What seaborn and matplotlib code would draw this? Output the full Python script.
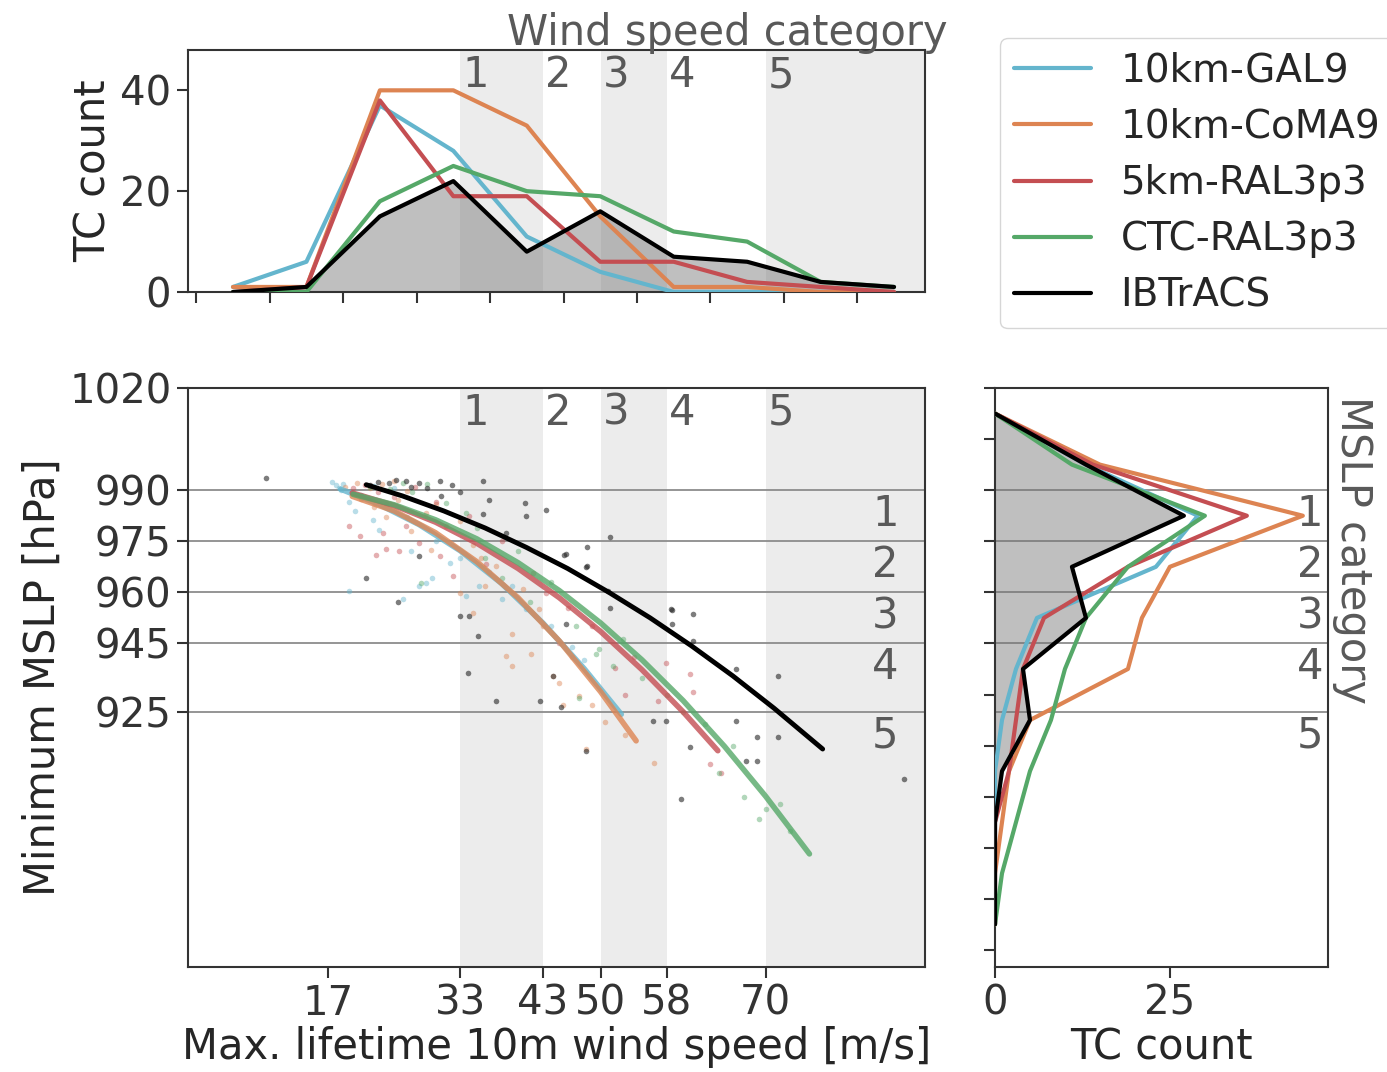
import numpy as np
import pandas as pd
import matplotlib
matplotlib.use("Agg")
import matplotlib.pyplot as plt
from matplotlib.lines import Line2D
import seaborn as sns

sns.set_style("ticks")
plt.rcParams["font.family"] = ["DejaVu Sans"]
FS = 30
TICK_FS = 29
LEG_FS = 28
GREY_TXT = "0.35"

# ---------------------------------------------------------------- data
models = ["10km-GAL9", "10km-CoMA9", "5km-RAL3p3", "CTC-RAL3p3", "IBTrACS"]

# Saffir-Simpson wind thresholds [m/s] and MSLP category thresholds [hPa]
wind_cat_bounds = [33, 43, 50, 58, 70]
mslp_cat_bounds = [990, 975, 960, 945, 925]
cat_labels = ["1", "2", "3", "4", "5"]

# wind-speed histogram (10 bins between 1 and 90 m/s)
wind_edges = np.linspace(1, 90, 11)
wind_counts = {
    "10km-GAL9":  [1, 6, 37, 28, 11, 4, 0, 0, 0, 0],
    "10km-CoMA9": [1, 1, 40, 40, 33, 15, 1, 1, 0, 0],
    "5km-RAL3p3": [0, 1, 38, 19, 19, 6, 6, 2, 1, 0],
    "CTC-RAL3p3": [0, 0, 18, 25, 20, 19, 12, 10, 2, 1],
    "IBTrACS":    [0, 1, 15, 22, 8, 16, 7, 6, 2, 1],
}

# MSLP histogram (15 hPa bins, 1020 down to 855 hPa)
mslp_edges = np.arange(855, 1021, 15)
mslp_centres = [1012.5, 997.5, 982.5, 967.5, 952.5, 937.5, 922.5, 907.5, 892.5, 877.5, 862.5]
mslp_counts = {
    "10km-GAL9":  [0, 13, 29, 23, 6, 3, 1, 0, 0, 0, 0],
    "10km-CoMA9": [0, 15, 44, 25, 21, 19, 5, 2, 1, 0, 0],
    "5km-RAL3p3": [0, 14, 36, 19, 7, 4, 3, 2, 0, 0, 0],
    "CTC-RAL3p3": [0, 11, 30, 19, 13, 10, 8, 5, 3, 1, 0],
    "IBTrACS":    [0, 13, 27, 11, 13, 4, 5, 1, 0, 0, 0],
}

# per-storm lifetime maxima: (max wind [m/s], min MSLP [hPa])
storms_gal9 = [(17.9, 991.6), (18.3, 990.6), (18.5, 990.0), (17.5, 992.5), (18.8, 991.8),
               (20.2, 983.8), (28.8, 962.8), (29.6, 964.2), (28.0, 961.8), (31.7, 968.6),
               (35.3, 961.8), (39.3, 961.8), (33.7, 958.9), (22.4, 981.3), (23.2, 978.4),
               (21.0, 988.5), (24.0, 986.0), (26.5, 982.0), (30.0, 975.0), (36.5, 966.0),
               (41.0, 955.0), (44.0, 950.0), (46.5, 944.0), (19.5, 986.5), (27.0, 972.0),
               (33.0, 970.0), (38.0, 958.0), (48.0, 940.0), (25.0, 990.5), (22.5, 991.2),
               (19.5, 960.4), (26.0, 958.0)]
storms_coma9 = [(19.0, 991.0), (20.5, 992.0), (22.0, 990.5), (23.5, 991.8), (25.0, 992.6),
                (26.5, 989.8), (28.8, 983.3), (31.3, 979.4), (34.5, 974.0), (37.3, 967.7),
                (40.6, 960.9), (32.9, 959.9), (34.5, 954.0), (38.5, 941.3), (39.3, 938.4),
                (41.6, 941.8), (39.3, 947.7), (48.2, 914.0), (45.0, 933.5), (44.2, 935.5),
                (45.4, 926.8), (49.0, 926.8), (47.4, 929.7), (22.5, 985.0), (24.0, 982.0),
                (27.0, 978.0), (29.5, 972.5), (36.0, 962.0), (43.0, 950.0), (46.5, 941.0),
                (50.5, 922.0), (53.0, 918.0), (30.0, 986.0), (33.0, 981.0), (21.0, 987.5),
                (25.5, 987.0), (35.5, 970.0), (42.5, 955.0), (56.5, 910.0)]
storms_ral3 = [(22.8, 971.1), (24.0, 972.6), (25.6, 972.1), (19.5, 979.4), (20.8, 976.5),
               (23.6, 977.4), (30.5, 970.6), (32.1, 964.7), (36.1, 968.2), (41.8, 965.7),
               (43.4, 959.9), (26.4, 979.4), (28.0, 974.5), (57.9, 939.4), (63.2, 909.5),
               (51.7, 937.9), (60.8, 936.0), (61.2, 930.6), (64.6, 907.1), (20.0, 990.5),
               (21.5, 991.5), (23.0, 989.5), (25.0, 988.0), (27.5, 990.8), (30.0, 986.5),
               (34.0, 982.5), (38.0, 975.0), (46.0, 955.5), (49.0, 950.0), (54.0, 941.0),
               (57.0, 928.0), (45.0, 945.0), (53.0, 930.0)]
storms_ctc = [(28.2, 962.8), (38.1, 964.2), (41.4, 957.2), (31.3, 986.2), (33.7, 983.3),
              (27.2, 989.6), (49.8, 943.3), (49.4, 941.8), (52.7, 946.2), (62.6, 921.3),
              (69.2, 893.5), (70.0, 896.4), (71.7, 897.9), (67.4, 899.9), (64.4, 907.1),
              (47.4, 929.1), (51.5, 938.4), (22.0, 991.0), (24.5, 990.2), (26.0, 992.0),
              (29.0, 991.8), (35.0, 979.0), (40.0, 972.0), (44.0, 963.0), (55.0, 935.0),
              (58.0, 930.0), (60.0, 925.0), (66.0, 915.0), (73.0, 890.0), (47.0, 950.0),
              (36.0, 970.0)]
storms_ibt = [(9.4, 993.6), (22.0, 991.5), (23.0, 992.5), (24.4, 992.1), (25.2, 993.1),
              (26.4, 992.6), (27.0, 991.0), (28.0, 992.1), (29.0, 990.5), (30.5, 992.6),
              (32.0, 991.5), (33.0, 989.5), (35.7, 992.6), (36.5, 987.0), (30.7, 988.2),
              (35.7, 983.1), (40.8, 986.2), (43.4, 984.3), (41.0, 982.4), (38.5, 977.4),
              (45.6, 971.0), (48.4, 967.7), (50.9, 960.4), (51.1, 955.5), (58.5, 955.0),
              (61.2, 953.5), (58.7, 950.6), (45.8, 950.6), (61.2, 945.7), (66.4, 937.4),
              (71.5, 935.5), (66.4, 922.3), (69.0, 917.4), (71.5, 917.4), (69.0, 910.6),
              (67.6, 910.6), (60.8, 914.5), (57.9, 922.3), (56.3, 922.3), (59.7, 899.4),
              (48.2, 913.5), (86.8, 905.2), (33.9, 936.4), (35.1, 947.2), (37.3, 928.2),
              (44.2, 935.5), (45.2, 926.2), (42.6, 928.2), (28.0, 970.6), (21.6, 964.2),
              (25.4, 957.2), (32.9, 953.0), (34.1, 953.0), (51.1, 976.3), (48.4, 973.4),
              (45.8, 971.4), (48.2, 967.5), (58.7, 954.8)]
storms = {"10km-GAL9": storms_gal9, "10km-CoMA9": storms_coma9, "5km-RAL3p3": storms_ral3,
          "CTC-RAL3p3": storms_ctc, "IBTrACS": storms_ibt}

# fitted wind-pressure relationships: (wind [m/s], MSLP [hPa])
fit_gal9 = [(18.5, 990.3), (23.0, 986.0), (28.0, 979.9), (33.0, 972.2), (38.0, 962.6),
            (43.0, 951.0), (48.0, 937.6), (52.5, 924.2)]
fit_coma9 = [(19.9, 988.2), (25.0, 983.9), (30.0, 977.5), (35.0, 969.0), (40.0, 958.4),
             (45.0, 945.7), (50.0, 930.8), (54.3, 916.4)]
fit_ral3 = [(19.9, 989.2), (25.0, 985.5), (30.0, 980.6), (35.0, 974.4), (40.0, 967.0),
            (45.0, 958.4), (50.0, 948.5), (55.0, 937.3), (60.0, 924.9), (64.2, 913.5)]
fit_ctc = [(20.0, 988.8), (25.0, 985.7), (30.0, 981.3), (35.0, 975.7), (40.0, 968.7),
           (45.0, 960.5), (50.0, 951.0), (55.0, 940.2), (60.0, 928.2), (65.0, 914.8),
           (70.0, 900.1), (75.3, 883.2)]
fit_ibt = [(21.6, 991.6), (26.0, 988.3), (31.0, 983.9), (36.0, 978.9), (41.0, 973.2),
           (46.0, 967.0), (51.0, 960.0), (56.0, 952.5), (61.0, 944.3), (66.0, 935.5),
           (71.0, 926.0), (76.9, 914.0)]
fits = {"10km-GAL9": fit_gal9, "10km-CoMA9": fit_coma9, "5km-RAL3p3": fit_ral3,
        "CTC-RAL3p3": fit_ctc, "IBTrACS": fit_ibt}

deep = sns.color_palette("deep")
colors = {"10km-GAL9": deep[9], "10km-CoMA9": deep[1], "5km-RAL3p3": deep[3],
          "CTC-RAL3p3": deep[2], "IBTrACS": "black"}

# ---------------------------------------------------------------- layout
W, H = 1387, 1072
fig = plt.figure(figsize=(W / 100, H / 100), dpi=100)


def rect(x0, y0, x1, y1):
    return [x0 / W, 1 - y1 / H, (x1 - x0) / W, (y1 - y0) / H]


ax_main = fig.add_axes(rect(188, 388, 925, 967))
ax_top = fig.add_axes(rect(188, 50, 925, 292))
ax_right = fig.add_axes(rect(995, 388, 1328, 967))

WIND_LIM = (0, 89.3)
MSLP_LIM = (850, 1020)
COUNT_LIM = (0, 47.6)

# shaded wind categories 1, 3, 5
bands = [(wind_cat_bounds[0], wind_cat_bounds[1]),
         (wind_cat_bounds[2], wind_cat_bounds[3]),
         (wind_cat_bounds[4], WIND_LIM[1])]
for ax in (ax_main, ax_top):
    for lo, hi in bands:
        ax.axvspan(lo, hi, color="0.925", lw=0, zorder=0)

# MSLP category lines
for ax in (ax_main, ax_right):
    for p in mslp_cat_bounds:
        ax.axhline(p, color="0.55", lw=1.3, zorder=1)

# ---------------------------------------------------------------- top: wind histogram
wind_centres = (wind_edges[:-1] + wind_edges[1:]) / 2
for m in models:
    sns.lineplot(x=wind_centres, y=wind_counts[m], color=colors[m], lw=3,
                 sort=False, estimator=None, ax=ax_top, zorder=3)
ax_top.fill_between(wind_centres, 0, wind_counts["IBTrACS"], color="0.45",
                    alpha=0.45, lw=0, zorder=2)

# ---------------------------------------------------------------- main: scatter + fits
for m in models:
    df = pd.DataFrame(storms[m], columns=["wind", "mslp"])
    if m == "IBTrACS":
        sns.scatterplot(data=df, x="wind", y="mslp", color="0.15", s=16, alpha=0.6,
                        linewidth=0, ax=ax_main, zorder=2)
    else:
        sns.scatterplot(data=df, x="wind", y="mslp", color=colors[m], s=16, alpha=0.45,
                        linewidth=0, ax=ax_main, zorder=2)
for m in models:
    df = pd.DataFrame(fits[m], columns=["wind", "mslp"])
    sns.lineplot(data=df, x="wind", y="mslp", color=colors[m],
                 lw=3.5 if m == "IBTrACS" else 4, alpha=1 if m == "IBTrACS" else 0.8,
                 sort=False, estimator=None, ax=ax_main, zorder=4)

# ---------------------------------------------------------------- right: MSLP histogram
for m in models:
    sns.lineplot(x=mslp_counts[m], y=mslp_centres, color=colors[m], lw=3,
                 sort=False, estimator=None, orient="y", ax=ax_right, zorder=3)
ax_right.fill_betweenx(mslp_centres, 0, mslp_counts["IBTrACS"], color="0.45",
                       alpha=0.45, lw=0, zorder=2)

# ---------------------------------------------------------------- category labels
for b, lab in zip(wind_cat_bounds, cat_labels):
    ax_top.text(b + 0.3, 43.0, lab, ha="left", va="center", fontsize=FS, color=GREY_TXT)
    ax_main.text(b + 0.3, 1012.8, lab, ha="left", va="center", fontsize=FS, color=GREY_TXT)
for b, lab in zip(mslp_cat_bounds, cat_labels):
    ax_main.text(84.5, b - 7, lab, ha="center", va="center", fontsize=FS, color=GREY_TXT)
    ax_right.text(45.0, b - 7, lab, ha="center", va="center", fontsize=FS, color=GREY_TXT)

ax_top.text(1.031, 1.02, "Wind speed category", transform=ax_top.transAxes,
            ha="right", va="baseline", fontsize=FS, color=GREY_TXT)
ax_right.text(1.075, 0.72, "MSLP category", transform=ax_right.transAxes,
              rotation=270, ha="center", va="center", fontsize=FS, color=GREY_TXT)

# ---------------------------------------------------------------- axes formatting
ax_main.set_xlim(*WIND_LIM)
ax_main.set_ylim(*MSLP_LIM)
ax_main.set_xticks([17, 33, 43, 50, 58, 70])
ax_main.set_yticks([1020, 990, 975, 960, 945, 925])
ax_main.set_xlabel("Max. lifetime 10m wind speed [m/s]", fontsize=FS, labelpad=2)
ax_main.set_ylabel("Minimum MSLP [hPa]", fontsize=FS)

ax_top.set_xlim(*WIND_LIM)
ax_top.set_ylim(0, 48)
ax_top.set_xticks(wind_edges[wind_edges < WIND_LIM[1]])
ax_top.set_xticklabels([])
ax_top.set_yticks([0, 20, 40])
ax_top.set_xlabel("")
ax_top.set_ylabel("TC count", fontsize=FS)

ax_right.set_xlim(*COUNT_LIM)
ax_right.set_ylim(*MSLP_LIM)
ax_right.set_xticks([0, 25])
ax_right.set_yticks(mslp_edges)
ax_right.set_yticklabels([])
ax_right.set_xlabel("TC count", fontsize=FS, labelpad=2)
ax_right.set_ylabel("")

for ax in (ax_main, ax_top, ax_right):
    ax.tick_params(labelsize=TICK_FS, length=8, width=1.5, colors="0.2", pad=4)
    for s in ax.spines.values():
        s.set_linewidth(1.5)
        s.set_color("0.2")
        s.set_visible(True)

handles = [Line2D([0], [0], color=colors[m], lw=3, label=m) for m in models]
fig.legend(handles=handles, loc="upper left", bbox_to_anchor=(1000 / W, 1 - 38 / H),
           fontsize=LEG_FS, frameon=True, borderaxespad=0, handlelength=2.0,
           handletextpad=0.75, labelspacing=0.47, borderpad=0.35)

fig.savefig("out.png", dpi=100)
